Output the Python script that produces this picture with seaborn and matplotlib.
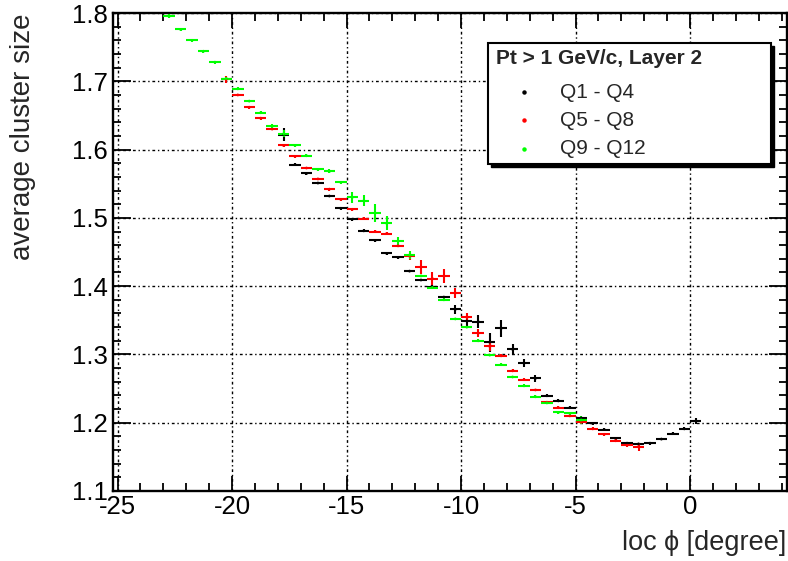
import numpy as np
import pandas as pd
import matplotlib
matplotlib.use("Agg")
import matplotlib.pyplot as plt
from matplotlib.patches import Rectangle
from matplotlib.ticker import MultipleLocator
import seaborn as sns

# ---------------- data ----------------
q1_x = [-17.75, -17.25, -16.75, -16.25, -15.75, -15.25, -14.75, -14.25, -13.75, -13.25,
        -12.75, -12.25, -11.75, -11.25, -10.75, -10.25, -9.75, -9.25, -8.75, -8.25,
        -7.75, -7.25, -6.75, -6.25, -5.75, -5.25, -4.75, -4.25, -3.75, -3.25,
        -2.75, -2.25, -1.75, -1.25, -0.75, -0.25, 0.25]
q1_y = [1.622, 1.578, 1.565, 1.551, 1.532, 1.514, 1.498, 1.481, 1.467, 1.448,
        1.442, 1.422, 1.409, 1.399, 1.384, 1.366, 1.349, 1.348, 1.318, 1.338,
        1.3075, 1.287, 1.265, 1.2395, 1.232, 1.222, 1.207, 1.199, 1.190, 1.177,
        1.170, 1.169, 1.170, 1.176, 1.184, 1.191, 1.2025]
q1_e = [0.009, 0.002, 0.002, 0.002, 0.002, 0.002, 0.002, 0.002, 0.002, 0.002,
        0.002, 0.002, 0.002, 0.002, 0.002, 0.007, 0.008, 0.010, 0.014, 0.013,
        0.008, 0.006, 0.005, 0.002, 0.002, 0.002, 0.002, 0.002, 0.002, 0.002,
        0.002, 0.002, 0.002, 0.002, 0.002, 0.002, 0.005]

q5_x = [-20.25, -19.75, -19.25, -18.75, -18.25, -17.75, -17.25, -16.75, -16.25, -15.75,
        -15.25, -14.75, -14.25, -13.75, -13.25, -12.75, -12.25, -11.75, -11.25, -10.75,
        -10.25, -9.75, -9.25, -8.75, -8.25, -7.75, -7.25, -6.75, -6.25, -5.75,
        -5.25, -4.75, -4.25, -3.75, -3.25, -2.75, -2.25]
q5_y = [1.703, 1.680, 1.662, 1.646, 1.630, 1.606, 1.590, 1.573, 1.557, 1.542,
        1.527, 1.5125, 1.499, 1.480, 1.477, 1.459, 1.444, 1.428, 1.411, 1.415,
        1.390, 1.355, 1.331, 1.312, 1.298, 1.276, 1.263, 1.248, 1.230, 1.222,
        1.210, 1.2006, 1.191, 1.183, 1.1736, 1.167, 1.165]
q5_e = [0.005, 0.002, 0.002, 0.002, 0.002, 0.002, 0.002, 0.002, 0.002, 0.002,
        0.002, 0.002, 0.002, 0.002, 0.002, 0.002, 0.005, 0.010, 0.010, 0.010,
        0.008, 0.005, 0.006, 0.007, 0.002, 0.002, 0.002, 0.002, 0.002, 0.002,
        0.002, 0.002, 0.002, 0.002, 0.002, 0.002, 0.006]

q9_x = [-22.75, -22.25, -21.75, -21.25, -20.75, -20.25, -19.75, -19.25, -18.75, -18.25,
        -17.75, -17.25, -16.75, -16.25, -15.75, -15.25, -14.75, -14.25, -13.75, -13.25,
        -12.75, -12.25, -11.75, -11.25, -10.75, -10.25, -9.75, -9.25, -8.75, -8.25,
        -7.75, -7.25, -6.75, -6.25, -5.75, -5.25, -4.75]
q9_y = [1.795, 1.776, 1.760, 1.744, 1.728, 1.704, 1.689, 1.671, 1.654, 1.634,
        1.623, 1.606, 1.591, 1.571, 1.568, 1.552, 1.530, 1.525, 1.507, 1.492,
        1.466, 1.4455, 1.415, 1.398, 1.380, 1.352, 1.340, 1.320, 1.299, 1.285,
        1.267, 1.254, 1.238, 1.229, 1.215, 1.2137, 1.204]
q9_e = [0.003, 0.002, 0.002, 0.002, 0.002, 0.002, 0.002, 0.002, 0.002, 0.003,
        0.005, 0.002, 0.002, 0.002, 0.003, 0.002, 0.008, 0.008, 0.013, 0.010,
        0.006, 0.006, 0.002, 0.002, 0.002, 0.002, 0.002, 0.002, 0.002, 0.002,
        0.002, 0.002, 0.002, 0.002, 0.002, 0.002, 0.006]

labels = ["Q1 - Q4", "Q5 - Q8", "Q9 - Q12"]
colors = ["#000000", "#ff0000", "#00ff00"]
legend_title = "Pt > 1 GeV/c, Layer 2"
y_tick_labels = ["1.1", "1.2", "1.3", "1.4", "1.5", "1.6", "1.7", "1.8"]

# ---------------- style ----------------
sns.set_theme(style="white")
plt.rcParams['font.family'] = ['Liberation Sans', 'DejaVu Sans']
plt.rcParams['axes.unicode_minus'] = False

fig = plt.figure(figsize=(7.88, 5.61), dpi=100)
ax = fig.add_axes([0.1434, 0.1248, 0.8549, 0.852])

series = [(q1_x, q1_y, q1_e), (q5_x, q5_y, q5_e), (q9_x, q9_y, q9_e)]
frames = []
for (sx, sy, se), lab in zip(series, labels):
    frames.append(pd.DataFrame({"phi": sx, "size": sy, "err": se, "group": lab}))
df = pd.concat(frames, ignore_index=True)

for (sx, sy, se), lab, col in zip(series, labels, colors):
    ax.errorbar(sx, sy, xerr=0.25, yerr=se, fmt='none', ecolor=col,
                elinewidth=1.5, capsize=0, zorder=3)

sns.scatterplot(data=df, x="phi", y="size", hue="group", palette=dict(zip(labels, colors)),
                s=4, marker='o', linewidth=0, legend=False, ax=ax, zorder=4)

ax.set_xlim(-25.2, 4.22)
ax.set_ylim(1.1, 1.8)
ax.set_xlabel("")
ax.set_ylabel("")

ax.xaxis.set_major_locator(MultipleLocator(5))
ax.xaxis.set_minor_locator(MultipleLocator(1))
ax.yaxis.set_minor_locator(MultipleLocator(0.02))
ax.set_yticks(np.arange(1.1, 1.801, 0.1))
ax.set_yticklabels(y_tick_labels)

ax.tick_params(which='both', direction='in', top=True, right=True, bottom=True, left=True,
               colors='black', labelsize=18.5, width=1.3)
ax.tick_params(axis='x', which='major', length=11, pad=3)
ax.tick_params(axis='y', which='major', length=13, pad=4)
ax.tick_params(which='minor', length=5.5)

ax.grid(True, which='major', color='black', linestyle=(0, (2, 2, 1, 2)), linewidth=1.0)
ax.set_axisbelow(True)
for sp in ax.spines.values():
    sp.set_visible(True)
    sp.set_color('black')
    sp.set_linewidth(1.7)

fig.text(23 / 788, 1 - 13 / 561, "average cluster size", rotation=90,
         ha='center', va='top', fontsize=20)
fig.text(786 / 788, 1 - 543 / 561, "loc \u03d5 [degree]", ha='right', va='center',
         fontsize=19.5)

# ---------------- legend box (ROOT style) ----------------
def px2fig(x, y):
    return x / 788, 1 - y / 561

x0, y0 = px2fig(488, 164)
x1, y1 = px2fig(771, 43)
sh = 3 / 788
shy = 3 / 561
fig.patches.append(Rectangle((x0 + sh, y0 - shy), x1 - x0, y1 - y0, transform=fig.transFigure,
                             facecolor='black', edgecolor='black', zorder=10))
fig.patches.append(Rectangle((x0, y0), x1 - x0, y1 - y0, transform=fig.transFigure,
                             facecolor='white', edgecolor='black', linewidth=1.5, zorder=11))
tx, ty = px2fig(496, 58)
fig.text(tx, ty, legend_title, ha='left', va='center', fontsize=15, fontweight='bold', zorder=12)
for lab, col, yy in zip(labels, colors, [92, 120, 149]):
    mx, my = px2fig(524, yy)
    fig.lines.append(plt.Line2D([mx], [my], marker='o', markersize=2.2, color=col,
                                linestyle='none', transform=fig.transFigure, zorder=12))
    lx, ly = px2fig(560, yy)
    fig.text(lx, ly, lab, ha='left', va='center', fontsize=15, zorder=12)

fig.savefig("out.png", dpi=100, facecolor='white')
